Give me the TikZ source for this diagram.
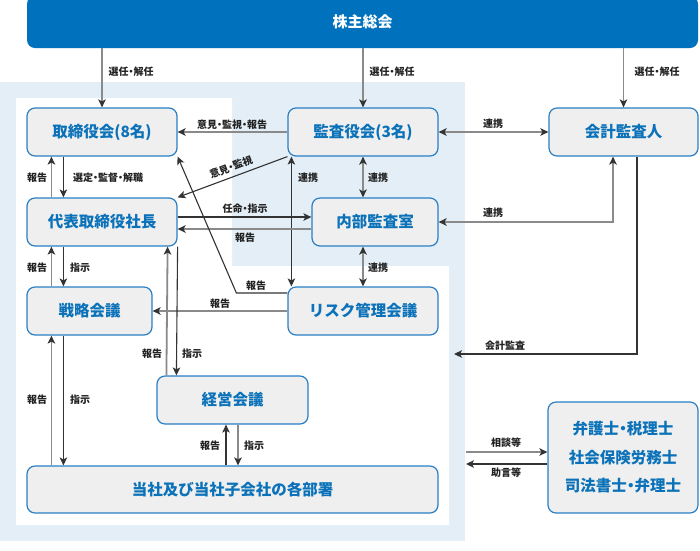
\documentclass[tikz,border=0pt]{standalone}
\usepackage{fontspec}
\setmainfont{Noto Sans CJK JP}
\newcommand\ngr{{\addfontfeature{RawFeature=+palt}・}}
\usetikzlibrary{arrows.meta}
\definecolor{bluebar}{HTML}{0071BC}
\definecolor{bluetxt}{HTML}{0B72B9}
\definecolor{blueline}{HTML}{2A7FC4}
\definecolor{bgblue}{HTML}{E3EEF7}
\definecolor{boxfill}{HTML}{EFEFEF}
\definecolor{grayline}{HTML}{8A8A8A}
\definecolor{darkline}{HTML}{333333}
\definecolor{lbltxt}{HTML}{222222}
\tikzset{
 box/.style={draw=blueline, line width=1.2pt, fill=boxfill, rounded corners=8pt, text=bluetxt,
   font=\fontsize{15.5}{18}\selectfont\bfseries, inner sep=0pt, align=center},
 topbar/.style={fill=bluebar, rounded corners=8pt, text=white, font=\fontsize{15}{18}\selectfont\bfseries,
   inner sep=0pt, minimum width=671pt, minimum height=52pt},
 lbl/.style={font=\fontsize{10}{12}\selectfont\bfseries, text=lbltxt, inner sep=0pt},
 tip/.style={-{Stealth[length=8pt,width=7.5pt,inset=2pt,color=darkline]}},
 dtip/.style={{Stealth[length=8pt,width=7.5pt,inset=2pt,color=darkline]}-{Stealth[length=8pt,width=7.5pt,inset=2pt,color=darkline]}},
 gl/.style={draw=grayline, line width=1.8pt},
 dl/.style={draw=darkline, line width=1.1pt},
}
\begin{document}
\begin{tikzpicture}[x=1pt,y=-1pt]
\useasboundingbox (0,0) rectangle (700,550);
% backgrounds
\fill[bgblue] (0,82) rectangle (465,541);
\fill[white] (16,98) -- (232,98) -- (232,266) -- (449,266) -- (449,525) -- (16,525) -- cycle;
% nodes
\node[topbar] (top) at (362.5,22) {株主総会};
\node[box, minimum width=150pt, minimum height=48pt] (tori) at (102,132) {取締役会(8名)};
\node[box, minimum width=150pt, minimum height=48pt] (kansa) at (363,132) {監査役会(3名)};
\node[box, minimum width=149pt, minimum height=48pt] (kaikei) at (623.5,132) {会計監査人};
\node[box, minimum width=150pt, minimum height=48pt] (daihyo) at (102,222) {代表取締役社長};
\node[box, minimum width=126pt, minimum height=48pt] (naibu) at (375,222) {内部監査室};
\node[box, minimum width=125pt, minimum height=48pt] (senryaku) at (89.5,311) {戦略会議};
\node[box, minimum width=150pt, minimum height=48pt] (risk) at (363,311) {リスク管理会議};
\node[box, minimum width=151pt, minimum height=48pt] (keiei) at (232.5,400) {経営会議};
\node[box, minimum width=411pt, minimum height=47pt] (busho) at (232.5,489.5) {当社及び当社子会社の各部署};
\node[box, minimum width=150pt, minimum height=111pt, font=\fontsize{15.5}{28.5}\selectfont\bfseries] (bengo) at (623,457.5) {弁護士\ngr 税理士\\社会保険労務士\\司法書士\ngr 弁理士};
\coordinate (kaend) at (454,354);
\coordinate (soudan) at (466,452);
\coordinate (jogen) at (466,464);
% connectors from shareholders
\draw[gl,tip] (top.south -| tori.north) -- (tori.north);
\draw[gl,tip] (top.south -| kansa.north) -- (kansa.north);
\draw[gl,tip] (top.south -| kaikei.north) -- (kaikei.north);
% audit board
\draw[gl,tip] (kansa.west) -- (tori.east);
\draw[gl,dtip] (kansa.east) -- (kaikei.west);
\draw[dl,tip] (kansa.south west) -- (daihyo.north east);
\draw[dl,dtip] ([xshift=4pt]kansa.south west) -- ([xshift=4pt]risk.north west);
\draw[gl,dtip] (kansa.south) -- (kansa.south |- naibu.north);
% board <-> president
\draw[gl,tip] ([xshift=25pt]daihyo.north west) -- ([xshift=25pt]tori.south west);
\draw[dl,tip] ([xshift=37pt]tori.south west) -- ([xshift=37pt]daihyo.north west);
% president <-> internal audit
\draw[dl,tip] ([yshift=5pt]daihyo.east) -- ([yshift=5pt]naibu.west);
\draw[gl,tip] ([yshift=-7pt]naibu.west) -- ([yshift=-7pt]daihyo.east);
% accounting auditor
\draw[gl,dtip] ([xshift=-10.5pt]kaikei.south) |- (naibu.east);
\draw[dl,tip] ([xshift=13.5pt]kaikei.south) |- (kaend);
% internal audit <-> risk
\draw[gl,dtip] (naibu.south -| kansa.south) -- (risk.north);
% risk
\draw[dl,tip] ([yshift=18pt]risk.west) -- ++(-51,0) -- (tori.south east);
\draw[gl,tip] (risk.west) -- (senryaku.east);
% president <-> strategy
\draw[gl,tip] ([xshift=25pt]senryaku.north west) -- ([xshift=25pt]daihyo.south west);
\draw[dl,tip] ([xshift=37pt]daihyo.south west) -- ([xshift=37pt]senryaku.north west);
% president <-> management
\draw[gl,tip] ([xshift=10pt]keiei.north west) -- ([xshift=-10pt]daihyo.south east);
\draw[dl,tip] (daihyo.south east) -- ([xshift=20pt]keiei.north west);
% strategy <-> departments
\draw[gl,tip] ([xshift=25pt]busho.north west) -- ([xshift=25pt]senryaku.south west);
\draw[dl,tip] ([xshift=37pt]senryaku.south west) -- ([xshift=37pt]busho.north west);
% management <-> departments
\draw[dl,tip] ([xshift=-6.5pt]busho.north) -- ([xshift=-6.5pt]keiei.south);
\draw[gl,tip] ([xshift=5.5pt]keiei.south) -- ([xshift=5.5pt]busho.north);
% experts
\draw[gl,tip] (soudan) -- ([yshift=5.5pt]bengo.west);
\draw[dl,tip] ([yshift=-6.5pt]bengo.west) -- (jogen);
% labels
\node[lbl] (l1) at (131,72) {選任\ngr 解任};
\node[lbl] (l2) at (392,72) {選任\ngr 解任};
\node[lbl] (l3) at (657,72) {選任\ngr 解任};
\node[lbl] (l4) at (232,125) {意見\ngr 監視\ngr 報告};
\node[lbl] (l5) at (493,124) {連携};
\node[lbl, rotate=21] (l6) at (231,167) {意見\ngr 監視};
\node[lbl] (l7) at (37,178) {報告};
\node[lbl] (l8) at (108,178) {選定\ngr 監督\ngr 解職};
\node[lbl] (l9) at (308,178) {連携};
\node[lbl] (l10) at (378,178) {連携};
\node[lbl] (l11) at (245,209) {任命\ngr 指示};
\node[lbl] (l12) at (245,238) {報告};
\node[lbl] (l13) at (493,213) {連携};
\node[lbl] (l14) at (378,268) {連携};
\node[lbl] (l15) at (37,268) {報告};
\node[lbl] (l16) at (80,268) {指示};
\node[lbl] (l17) at (256,286) {報告};
\node[lbl] (l18) at (220,304) {報告};
\node[lbl] (l19) at (152,354) {報告};
\node[lbl] (l20) at (192,354) {指示};
\node[lbl] (l21) at (505,346) {会計監査};
\node[lbl] (l22) at (37,400) {報告};
\node[lbl] (l23) at (80,400) {指示};
\node[lbl] (l24) at (210,446) {報告};
\node[lbl] (l25) at (254,446) {指示};
\node[lbl] (l26) at (506,443) {相談等};
\node[lbl] (l27) at (506,473) {助言等};
\end{tikzpicture}
\end{document}
